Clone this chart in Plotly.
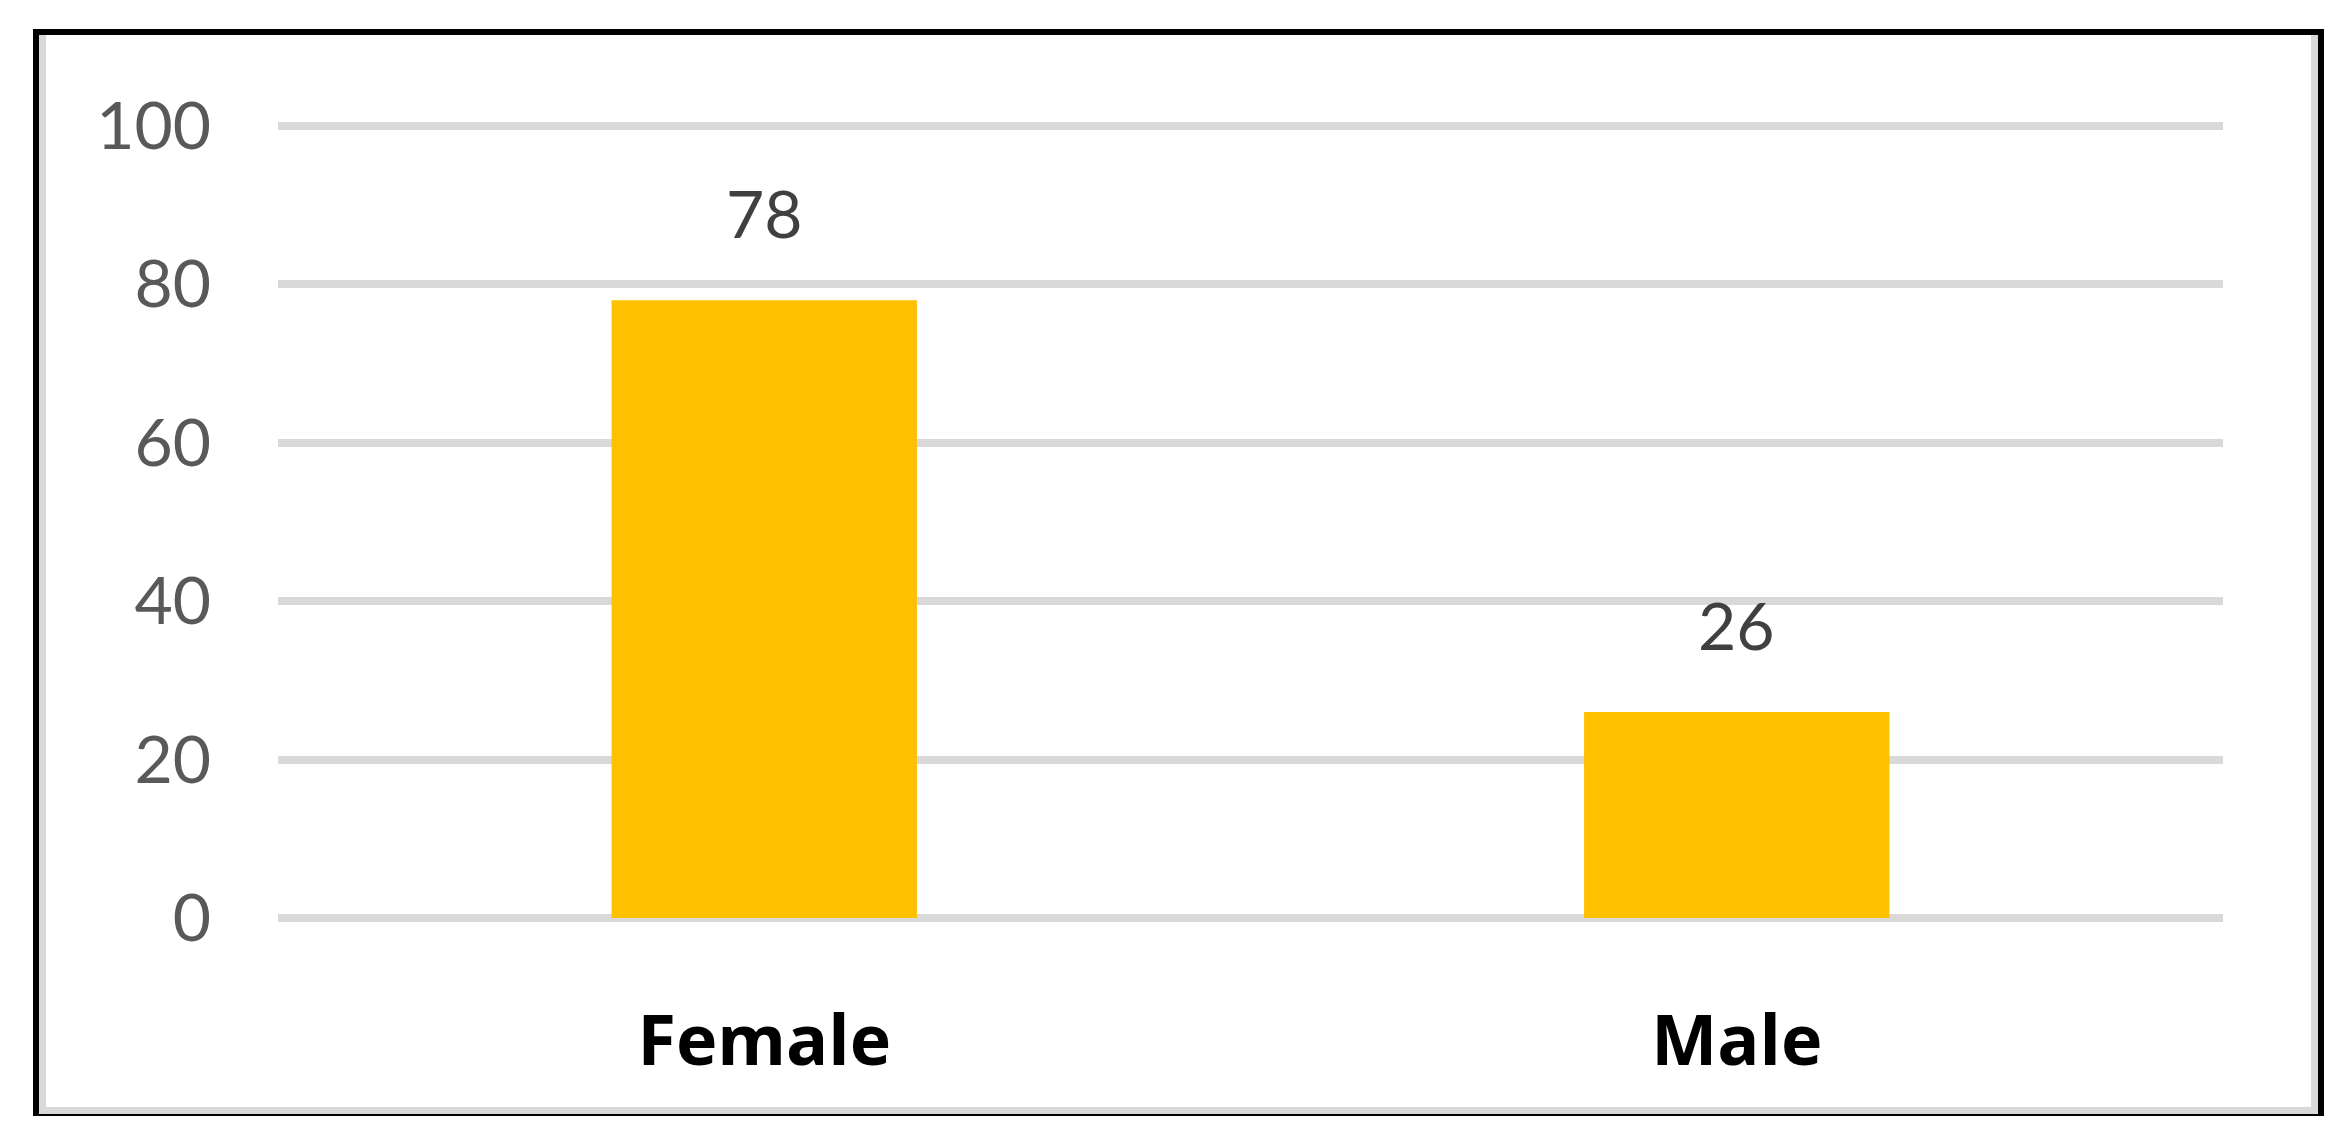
import plotly.graph_objects as go

genders = ["Female", "Male"]
counts = [78, 26]
y_ticks = [0, 20, 40, 60, 80, 100]

W, H = 2334, 1134
L, R, T, B = 270, 2215, 110, 918  # plot area in pixels

def px(x):
    return (x - L) / (R - L)

def py(y):
    return (B - y) / (B - T)

fig = go.Figure()

fig.add_trace(go.Bar(
    x=genders,
    y=counts,
    marker=dict(color="#FFC000", line=dict(width=0)),
    hoverinfo="skip",
))

for g, c in zip(genders, counts):
    fig.add_annotation(
        x=g, y=c, text=str(c), showarrow=False,
        yanchor="bottom", yshift=46,
        font=dict(family="Lato", size=66, color="#404040"),
    )

# frame: black outline, grey inner band on left/right/bottom
frame = [
    ((28, 21, 28, 1108), "black", 6),
    ((25, 24, 2316, 24), "black", 6),
    ((2313, 21, 2313, 1108), "black", 6),
    ((25, 1107, 2316, 1107), "black", 2),
    ((34.5, 27, 34.5, 1106), "#d9d9d9", 7),
    ((2306.5, 27, 2306.5, 1106), "#d9d9d9", 7),
    ((31, 1102.5, 2310, 1102.5), "#d9d9d9", 7),
]
for (x0, y0, x1, y1), col, w in frame:
    fig.add_shape(type="line", xref="paper", yref="paper",
                  x0=px(x0), x1=px(x1), y0=py(y0), y1=py(y1),
                  line=dict(color=col, width=w), layer="below")

fig.update_layout(
    width=W, height=H,
    margin=dict(l=L, r=W - R, t=T, b=H - B, pad=0),
    paper_bgcolor="white",
    plot_bgcolor="white",
    bargap=0.686,
    showlegend=False,
    font=dict(family="Lato"),
    xaxis=dict(
        showgrid=False, zeroline=False, showline=False, ticks="",
        tickfont=dict(family="Open Sans", size=70, color="black", weight="bold"),
        ticklabelstandoff=68,
    ),
    yaxis=dict(
        range=[-1, 101],
        tickvals=y_ticks,
        showgrid=True, gridcolor="#d9d9d9", gridwidth=8,
        zeroline=False, showline=False, ticks="",
        tickfont=dict(family="Lato", size=66, color="#595959"),
        ticklabelstandoff=66,
    ),
)

fig.write_html("out.html")
